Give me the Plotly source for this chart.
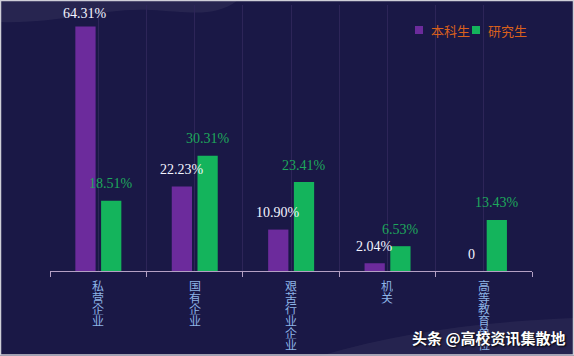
import plotly.graph_objects as go

# ---- data ----
categories = ["私营企业", "国有企业", "艰苦行业企业", "机关", "高等教育单位"]
series_names = ["本科生", "研究生"]
undergrad = [64.31, 22.23, 10.90, 2.04, 0]
postgrad = [18.51, 30.31, 23.41, 6.53, 13.43]
watermark = "头条 @高校资讯集散地"

# ---- geometry / style ----
W, H = 574, 356
ML, MR, MT, MB = 50, 42, 5, 85
PW, PH = W - ML - MR, H - MT - MB
Y_MAX = 70
BG = "#1a1846"
COLORS = ["#6c2b9c", "#14b45c"]
LABEL_COLORS = ["#f4f4ff", "#1ea85c"]
BAR_W = 0.21
OFF = [-0.237, 0.03]
LEGEND_SWATCH_X = [415, 472]
LEGEND_TEXT_X = [429, 486]
LEGEND_Y = 30
CHAR_STEP = 11.7
LABEL_GAP = 17
LABEL_MIN_TOP = 14


def px(x):
    return (x - ML) / PW


def py(y):
    return (H - MB - y) / PH


def fmt(v):
    return f"{v:.2f}%" if v else "0"


xs = list(range(len(categories)))
series = [undergrad, postgrad]

fig = go.Figure()
for k, vals in enumerate(series):
    fig.add_trace(go.Bar(x=xs, y=vals, name=series_names[k], width=BAR_W, offset=OFF[k],
                         marker=dict(color=COLORS[k], line=dict(width=0)), hoverinfo="skip"))

annotations = []
shapes = []
for k, vals in enumerate(series):
    for i, v in enumerate(vals):
        bar_top_px = MT + PH - v * PH / Y_MAX
        shift = min(LABEL_GAP, bar_top_px - MT - LABEL_MIN_TOP + MT)
        annotations.append(dict(x=i + OFF[k] + BAR_W / 2, y=v, xref="x", yref="y", text=fmt(v),
                                showarrow=False, yanchor="middle", yshift=shift,
                                font=dict(family="Liberation Serif", size=14, color=LABEL_COLORS[k])))

# vertical stacked category labels
for i, cat in enumerate(categories):
    for j, ch in enumerate(cat):
        annotations.append(dict(x=i, y=0, xref="x", yref="y", text=ch, showarrow=False,
                                yanchor="middle", yshift=-(15 + CHAR_STEP * j),
                                height=CHAR_STEP - 0.2, borderpad=0,
                                font=dict(family="Noto Sans CJK SC", size=12, color="#8db4e6")))

# legend (swatch + text)
for k, name in enumerate(series_names):
    shapes.append(dict(type="rect", xref="paper", yref="paper", layer="above",
                       x0=px(LEGEND_SWATCH_X[k]), x1=px(LEGEND_SWATCH_X[k] + 8),
                       y0=py(LEGEND_Y - 4), y1=py(LEGEND_Y + 4),
                       fillcolor=COLORS[k], line=dict(width=0)))
    annotations.append(dict(x=px(LEGEND_TEXT_X[k]), y=py(LEGEND_Y), xref="paper", yref="paper",
                            text=name, showarrow=False, xanchor="left", yanchor="middle",
                            font=dict(family="Noto Sans CJK SC", size=13, color="#d9601c")))

annotations.append(dict(x=px(489), y=py(337), xref="paper", yref="paper", text=watermark,
                        showarrow=False, xanchor="center", yanchor="middle",
                        font=dict(family="Noto Sans CJK SC", size=15, color="#ffffff",
                                  weight="bold", shadow="1px 1px 2px #000000")))

shapes += [
    # top decorative wave
    dict(type="path", xref="paper", yref="paper", layer="below", line=dict(width=0),
         fillcolor="rgba(255,255,255,0.06)",
         path=f"M {px(0)},{py(0)} L {px(0)},{py(22)} C {px(60)},{py(24)} {px(100)},{py(8)} {px(150)},{py(10)} "
              f"C {px(190)},{py(12)} {px(215)},{py(18)} {px(238)},{py(0)} Z"),
    # bottom-right decorative wave
    dict(type="path", xref="paper", yref="paper", layer="below", line=dict(width=0),
         fillcolor="rgba(255,255,255,0.05)",
         path=f"M {px(320)},{py(356)} C {px(400)},{py(332)} {px(480)},{py(322)} {px(574)},{py(318)} "
              f"L {px(574)},{py(356)} Z"),
    # frame border
    dict(type="rect", xref="paper", yref="paper", layer="above",
         x0=px(0.5), x1=px(573.5), y0=py(0.5), y1=py(355), line=dict(color="#cfcfd8", width=1.5)),
]

fig.update_layout(
    width=W, height=H,
    margin=dict(l=ML, r=MR, t=MT, b=MB, pad=0),
    paper_bgcolor=BG, plot_bgcolor="rgba(0,0,0,0)",
    barmode="overlay",
    showlegend=False,
    xaxis=dict(type="linear", range=[-0.5, len(categories) - 0.5], tick0=-0.5, dtick=1,
               showticklabels=False, ticks="outside", ticklen=5, tickcolor="#b4a0c4",
               showline=True, linecolor="#b4a0c4", linewidth=1,
               showgrid=True, gridcolor="#2d2558", gridwidth=1, zeroline=False,
               minor=dict(dtick=0.5, tick0=-0.5, showgrid=True, gridcolor="#2d2558", ticks="")),
    yaxis=dict(range=[0, Y_MAX], visible=False, showgrid=False, zeroline=False),
    annotations=annotations,
    shapes=shapes,
)

fig.write_html("out.html", config={"displayModeBar": False},
               post_script="document.body.style.margin='0';document.body.style.background='" + BG + "';")
